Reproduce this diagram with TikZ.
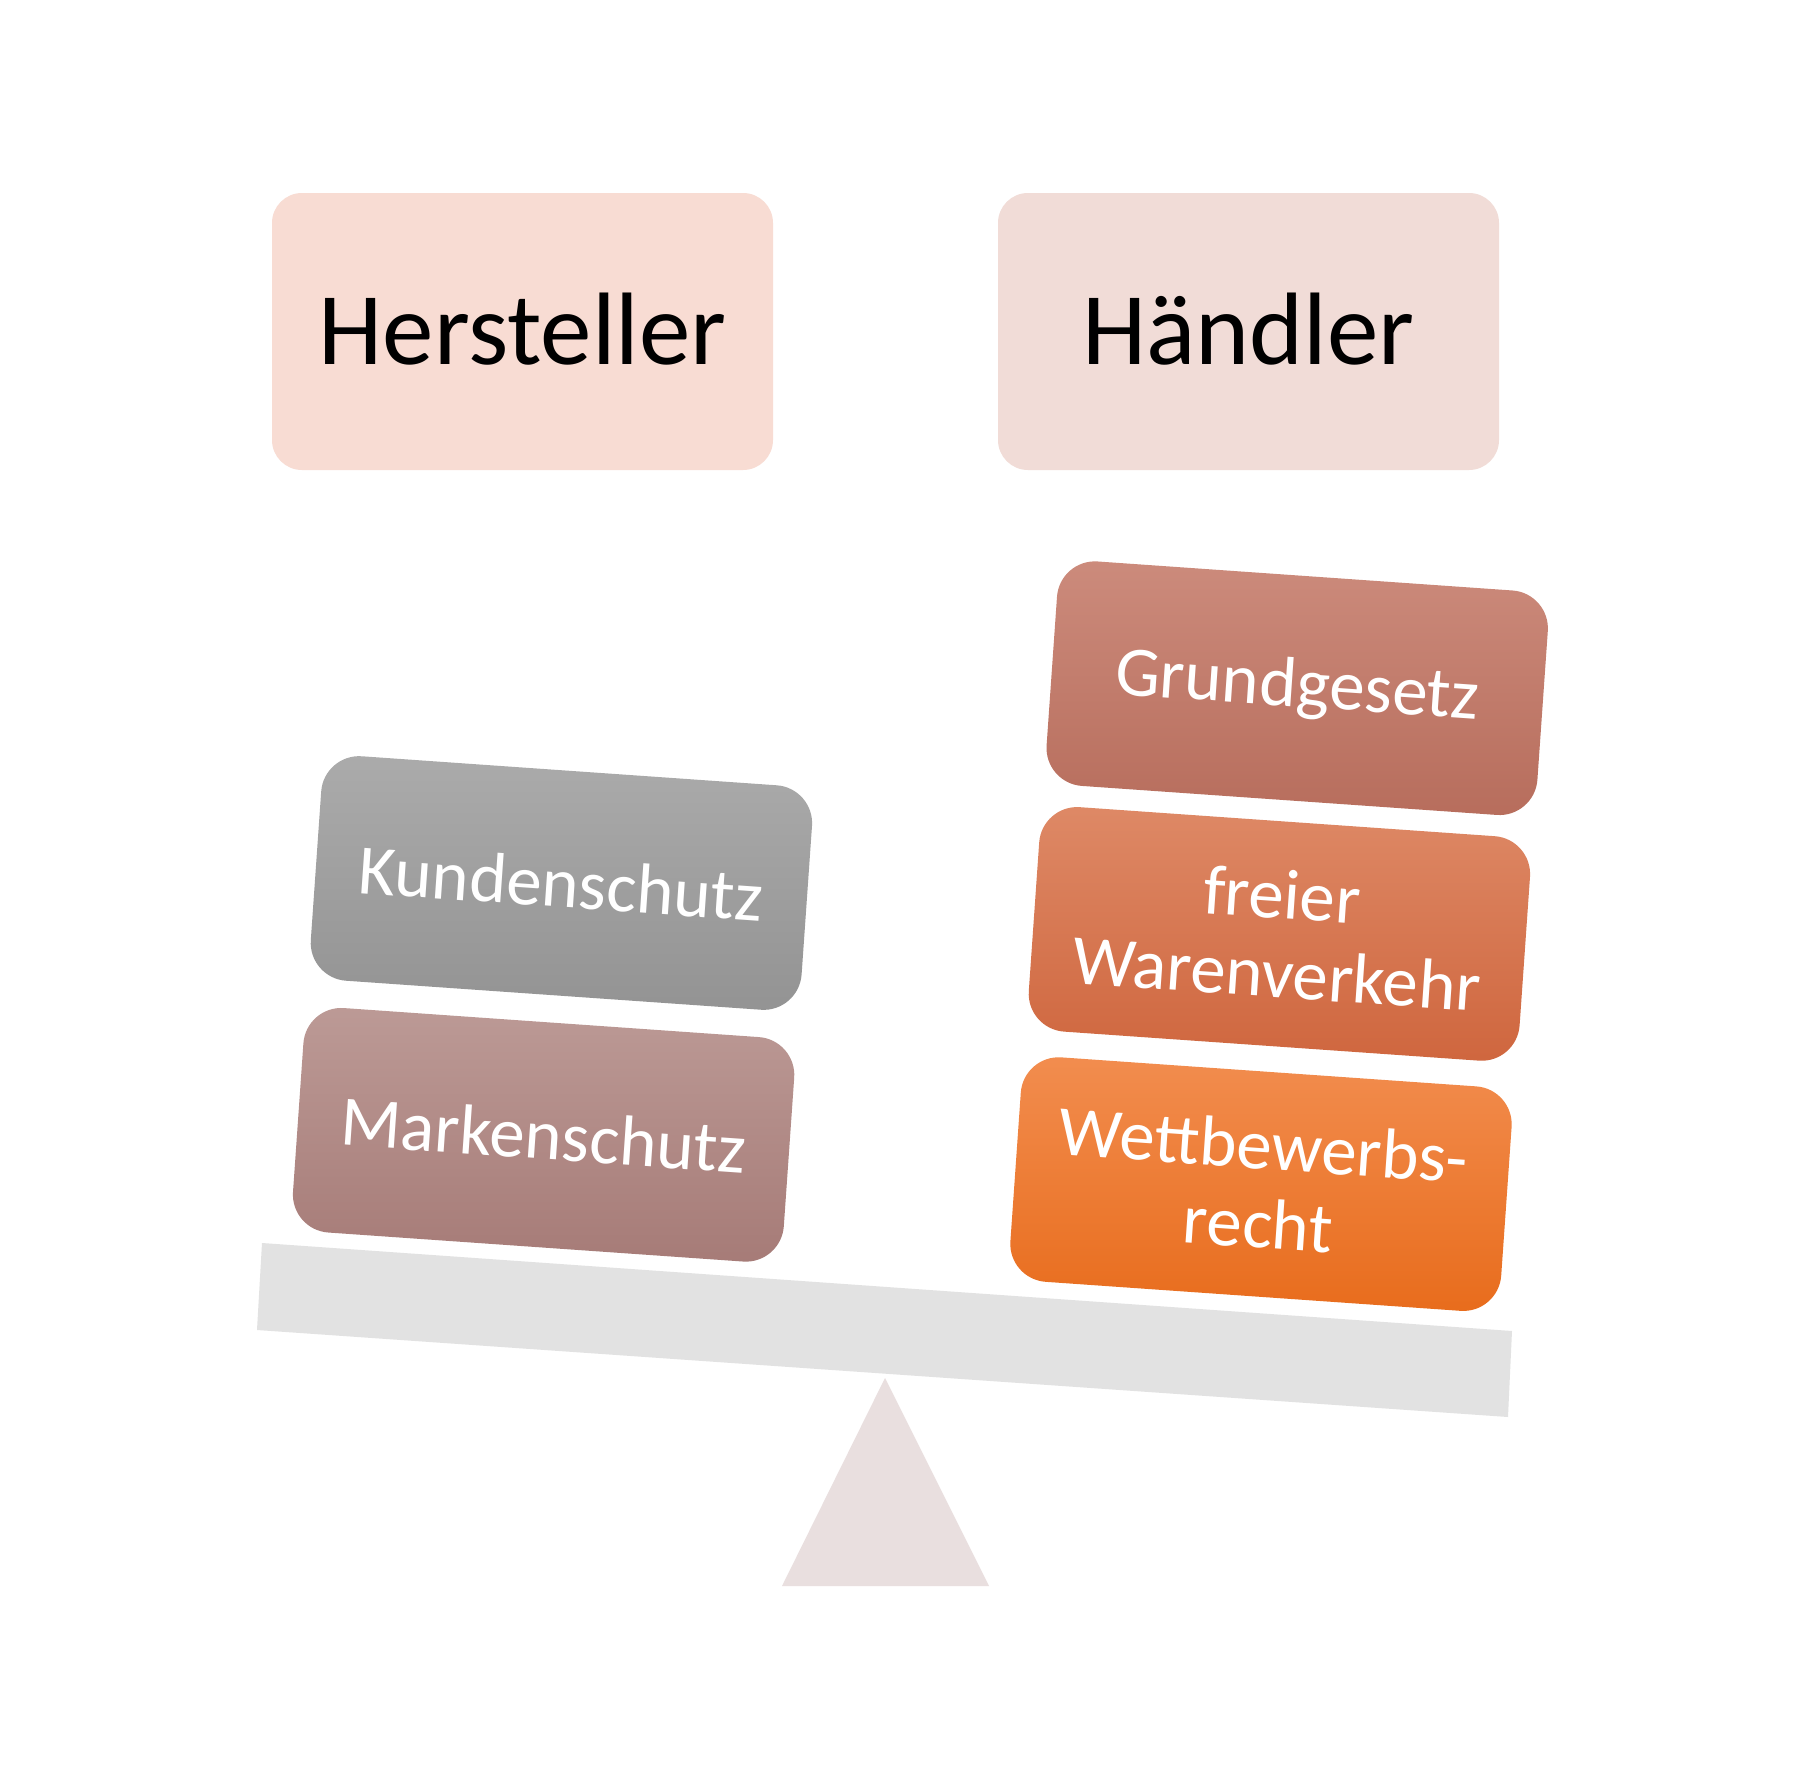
\documentclass[tikz,border=0pt]{standalone}
\usepackage{fontspec}
\setmainfont{Carlito}
\definecolor{herst}{HTML}{F8DCD3}
\definecolor{haend}{HTML}{F1DCD7}
\definecolor{beamc}{HTML}{E2E2E2}
\definecolor{fulc}{HTML}{E9DFDF}
\definecolor{kTop}{HTML}{ABABAB}
\definecolor{kBot}{HTML}{939393}
\definecolor{mTop}{HTML}{BC9A96}
\definecolor{mBot}{HTML}{A67B77}
\definecolor{gTop}{HTML}{CC8B7C}
\definecolor{gBot}{HTML}{B76D5C}
\definecolor{fTop}{HTML}{DE8966}
\definecolor{fBot}{HTML}{CF663E}
\definecolor{wTop}{HTML}{F28D4F}
\definecolor{wBot}{HTML}{E86C1C}
\tikzset{
  headbox/.style={rounded corners=15pt, minimum width=250.5pt, minimum height=138.5pt,
    inner sep=0pt, font=\fontsize{51.5}{55}\selectfont, text=black},
  weightbox/.style={rounded corners=19pt, minimum width=246pt, minimum height=112.5pt,
    inner sep=0pt, rotate=-4, text=white, align=center,
    font=\fontsize{35.5}{39.5}\selectfont},
}
\begin{document}
\begin{tikzpicture}[x=0.5pt,y=-0.5pt]
\useasboundingbox (0,0) rectangle (1800,1788);
\fill[white] (0,0) rectangle (1800,1788);
% header boxes
\node[headbox, fill=herst] (herst) at (522.5,331.5) {\raisebox{3pt}{Hersteller}};
\node[headbox, fill=haend] (haend) at (1248.5,331.5) {\raisebox{3pt}{Händler}};
% beam and fulcrum
\fill[beamc] (262,1243) -- (1512,1331) -- (1508,1417) -- (257,1330) -- cycle;
\fill[fulc] (885,1378) -- (989,1586) -- (782,1586) -- cycle;
% left weights
\node[weightbox, top color=kTop, bottom color=kBot] (kunden) at (561.4,883) {Kundenschutz};
\node[weightbox, top color=mTop, bottom color=mBot] (marken) at (543.6,1134.8) {Markenschutz};
% right weights
\node[weightbox, top color=gTop, bottom color=gBot] (grund) at (1297.2,688.2) {Grundgesetz};
\node[weightbox, top color=fTop, bottom color=fBot] (waren) at (1279.4,933.9) {freier\\Warenverkehr};
\node[weightbox, top color=wTop, bottom color=wBot] (wett) at (1261,1184.1) {Wettbewerbs-\\recht};
\end{tikzpicture}
\end{document}
